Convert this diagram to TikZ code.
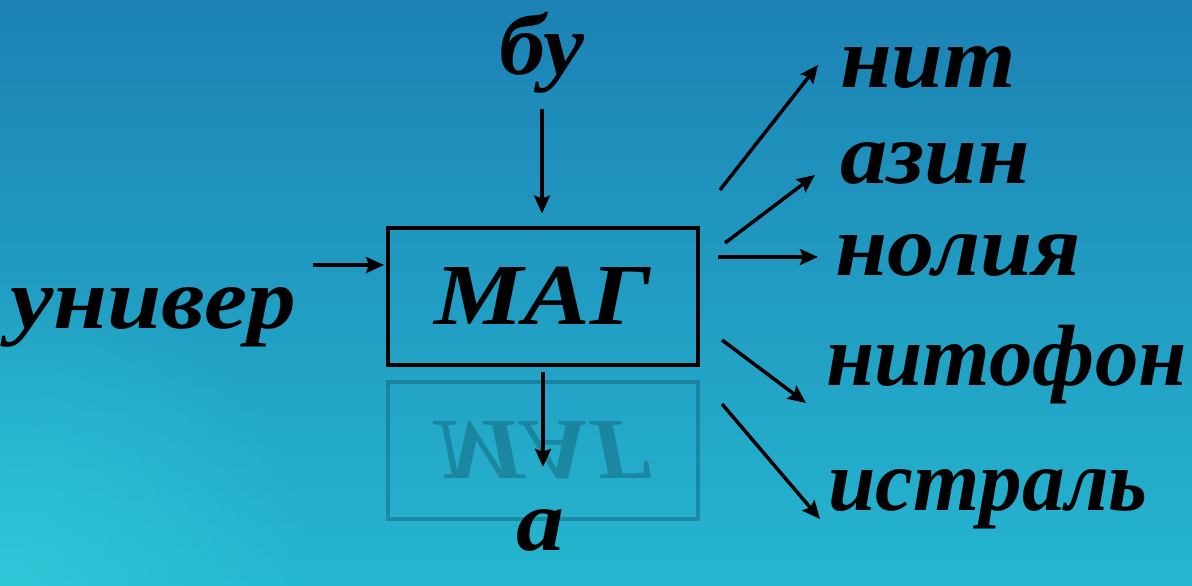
\documentclass[tikz,border=0pt]{standalone}
\usepackage{fontspec}
\setmainfont{Liberation Serif}
\usetikzlibrary{arrows.meta,fadings}

\definecolor{seatop}{RGB}{28,130,180}
\definecolor{seabot}{RGB}{38,182,208}
\definecolor{seaglow}{RGB}{52,212,222}
\definecolor{ghostcol}{RGB}{18,92,112}
\tikzfading[name=glowfade, inner color=transparent!0, outer color=transparent!100]
\newcommand{\wide}[2]{\scalebox{#1}[1]{#2}}

\begin{document}
\begin{tikzpicture}[x=1pt,y=-1pt,
  word/.style={font=\fontsize{87}{90}\selectfont\bfseries\itshape, inner sep=0pt},
  arr/.style={line width=3.5pt, -{Stealth[length=18pt,width=16pt,inset=3pt]}},
  magbox/.style={draw, line width=4pt, minimum width=310pt, minimum height=137pt}]
  % background
  \useasboundingbox (0,0) rectangle (1192,586);
  \clip (0,0) rectangle (1192,586);
  \shade[top color=seatop, bottom color=seabot] (0,0) rectangle (1192,586);
  \fill[seaglow, path fading=glowfade, opacity=0.6] (0,586) circle (320);

  % box and its reflection
  \node[word, magbox] (mag) at (543,296) {\wide{1.15}{МАГ}};
  \node[word, magbox, draw=ghostcol, text=ghostcol, opacity=0.45, yscale=-1] (ghost) at (543,450) {\wide{1.15}{МАГ}};

  \node[word, anchor=base] (bu) at (542,75) {\wide{1.06}{бу}};
  \node[word, anchor=base west] (univ) at (10,328) {\wide{1.12}{универ}};
  \node[word, anchor=base] (a) at (540,550) {\wide{1.1}{а}};

  \node[word, anchor=base west] (nit) at (840,88) {\wide{1.07}{нит}};
  \node[word, anchor=base west] (azin) at (840,183) {\wide{1.09}{азин}};
  \node[word, anchor=base west] (noliya) at (835,275) {\wide{1.08}{нолия}};
  \node[word, anchor=base west] (nitofon) at (826,385) {\wide{1.0}{нитофон}};
  \node[word, anchor=base west] (istral) at (828,510) {\wide{0.98}{истраль}};

  % inputs
  \draw[arr, shorten <=15pt, shorten >=12pt] (bu.south) -- (bu.south |- mag.north);
  \coordinate (in) at (313,265);
  \draw[arr, shorten >=2pt] (in) -- (in -| mag.west);
  \draw[arr, shorten <=5pt, shorten >=42pt] (mag.south) -- (mag.south |- a.north);

  % outputs
  \foreach \i/\sx/\sy/\ex/\ey in {1/720/190/818/65, 2/725/243/815/175, 3/718/257/818/257,
                                  4/722/340/806/403, 5/722/404/820/519}{
    \coordinate (from\i) at (\sx,\sy);
    \coordinate (to\i) at (\ex,\ey);
    \draw[arr] (from\i) -- (to\i);
  }
\end{tikzpicture}
\end{document}
